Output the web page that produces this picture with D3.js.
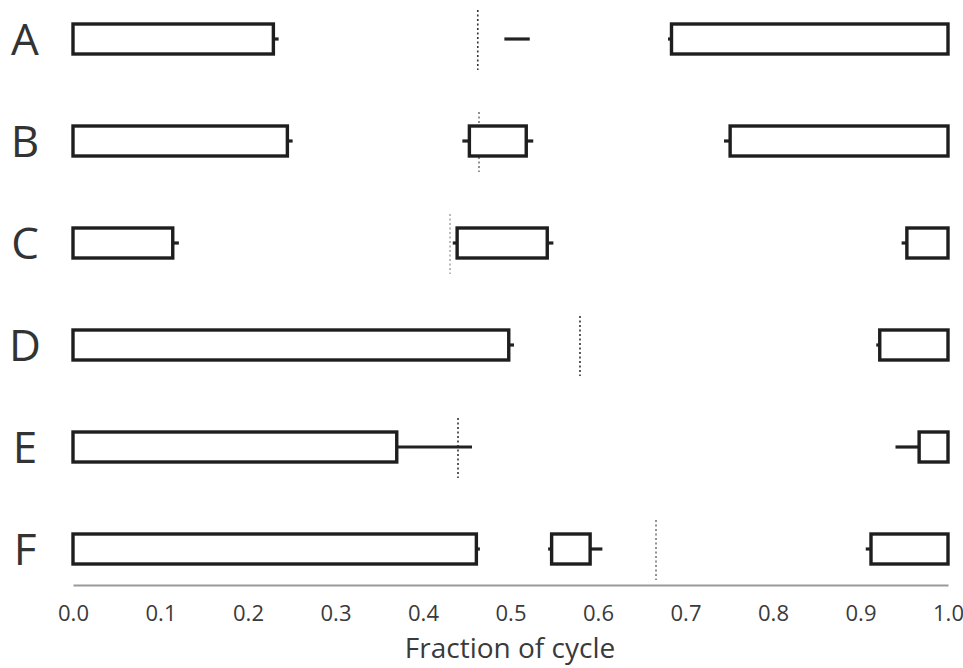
<!DOCTYPE html>
<html>
<head>
<meta charset="utf-8">
<script src="https://cdn.jsdelivr.net/npm/d3@7"></script>
<style>
  html, body { margin: 0; padding: 0; background: #fff; }
  svg { display: block; }
  text { font-family: "Open Sans", "Noto Sans", sans-serif; }
</style>
</head>
<body>
<svg id="chart" width="963" height="668"></svg>
<script>
// ---- data ----
const rows = ["A", "B", "C", "D", "E", "F"];
const xTicks = [0, 0.1, 0.2, 0.3, 0.4, 0.5, 0.6, 0.7, 0.8, 0.9, 1.0];
const xLabel = "Fraction of cycle";

// boxes: row, start, end
const boxRow   = ["A", "A", "B", "B", "B", "C", "C", "C", "D", "D", "E", "E", "F", "F", "F"];
const boxStart = [0, 0.684, 0, 0.453, 0.751, 0, 0.439, 0.953, 0, 0.922, 0, 0.967, 0, 0.547, 0.912];
const boxEnd   = [0.229, 1.0, 0.245, 0.518, 1.0, 0.114, 0.542, 1.0, 0.498, 1.0, 0.370, 1.0, 0.461, 0.591, 1.0];

// whisker lines: row, from, to
const whiskRow  = ["A", "A", "A", "B", "B", "B", "B", "C", "C", "C", "C", "D", "D", "E", "E", "F", "F", "F", "F"];
const whiskFrom = [0.229, 0.680, 0.493, 0.245, 0.445, 0.518, 0.744, 0.114, 0.434, 0.542, 0.947, 0.498, 0.918, 0.370, 0.940, 0.461, 0.543, 0.591, 0.906];
const whiskTo   = [0.235, 0.684, 0.522, 0.251, 0.453, 0.526, 0.751, 0.121, 0.439, 0.549, 0.953, 0.504, 0.922, 0.456, 0.967, 0.465, 0.547, 0.605, 0.912];

// dotted reference lines per row
const refValue = [0.4626, 0.4640, 0.4309, 0.5794, 0.4400, 0.6663];
// styles (not data)
const refStroke = ["#333", "#777", "#aaa", "#333", "#333", "#777"];

// ---- layout ----
const svg = d3.select("#chart");
const x = d3.scaleLinear().domain([0, 1]).range([73, 948]);
const y = d3.scalePoint().domain(rows).range([39, 549]);
const boxH = 30;

// reference dotted lines
svg.append("g").selectAll("line")
  .data(rows.map((r, i) => ({ r, v: refValue[i], c: refStroke[i] })))
  .join("line")
  .attr("x1", d => x(d.v)).attr("x2", d => x(d.v))
  .attr("y1", d => y(d.r) - 29).attr("y2", d => y(d.r) + 31)
  .attr("stroke", d => d.c)
  .attr("stroke-width", 1.6)
  .attr("stroke-dasharray", "2,2.5");

// whiskers
svg.append("g").selectAll("line")
  .data(whiskRow.map((r, i) => ({ r, a: whiskFrom[i], b: whiskTo[i] })))
  .join("line")
  .attr("x1", d => x(d.a)).attr("x2", d => x(d.b))
  .attr("y1", d => y(d.r)).attr("y2", d => y(d.r))
  .attr("stroke", "#222")
  .attr("stroke-width", 3.2);

// boxes
svg.append("g").selectAll("rect")
  .data(boxRow.map((r, i) => ({ r, s: boxStart[i], e: boxEnd[i] })))
  .join("rect")
  .attr("x", d => x(d.s))
  .attr("width", d => x(d.e) - x(d.s))
  .attr("y", d => y(d.r) - boxH / 2)
  .attr("height", boxH)
  .attr("fill", "#fff")
  .attr("stroke", "#1e1e1e")
  .attr("stroke-width", 3.4);

// row letters
svg.append("g").selectAll("text")
  .data(rows)
  .join("text")
  .attr("x", 25)
  .attr("y", d => y(d) + 16)
  .attr("text-anchor", "middle")
  .attr("font-size", 44)
  .attr("fill", "#333")
  .text(d => d);

// x axis
const axis = d3.axisBottom(x)
  .tickValues(xTicks)
  .tickFormat(d3.format(".1f"))
  .tickSize(0)
  .tickPadding(20);
const gx = svg.append("g").attr("transform", "translate(0,585)").call(axis);
gx.select(".domain").attr("stroke", "#999").attr("stroke-width", 2);
gx.selectAll("text").attr("font-size", 22).attr("fill", "#3a3a3a")
  .attr("font-family", "'Open Sans', 'Noto Sans', sans-serif");

svg.append("text")
  .attr("x", 510)
  .attr("y", 658)
  .attr("text-anchor", "middle")
  .attr("font-size", 28)
  .attr("fill", "#3a3a3a")
  .text(xLabel);
</script>
</body>
</html>
